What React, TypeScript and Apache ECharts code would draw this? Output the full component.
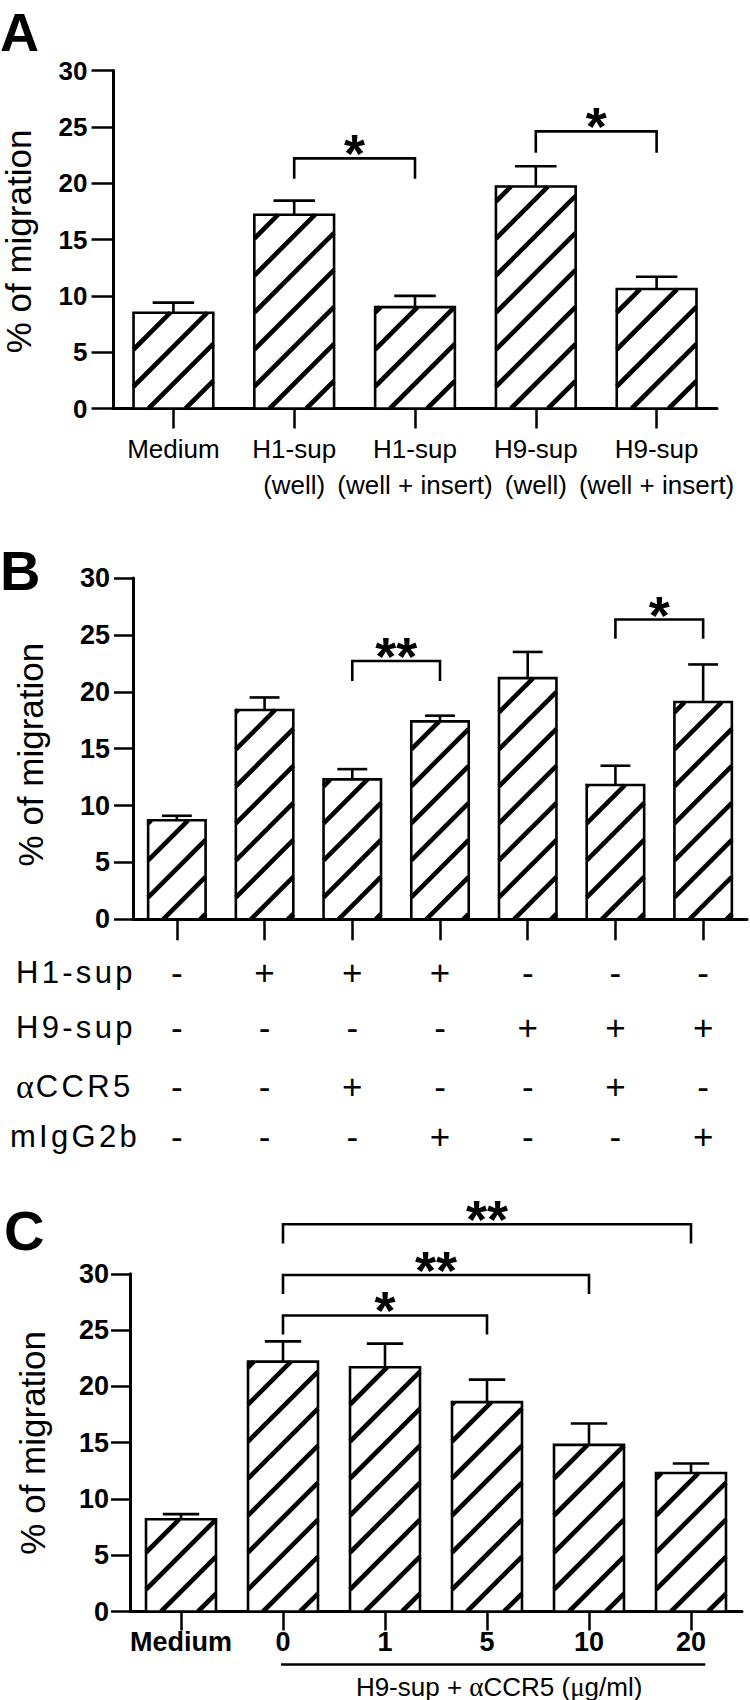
import React, { useEffect, useRef } from 'react';
import * as echarts from 'echarts';

const FONT = '"Liberation Sans", Arial, Helvetica, sans-serif';
const SERIF = '"Liberation Serif", "DejaVu Serif", serif';

// ---------- Panel A ----------
const aCategories = ['Medium', 'H1-sup\n(well)', 'H1-sup\n(well + insert)', 'H9-sup\n(well)', 'H9-sup\n(well + insert)'];
const aMeans = [8.5, 17.2, 9.0, 19.7, 10.6];
const aErrors = [0.9, 1.25, 1.0, 1.8, 1.1];
// [fromIndex, bracketY, toIndex, legDrop]
const aBrackets = [[1, 22.2, 2, 1.8], [3, 24.6, 4, 1.9]];
const aStars = ['*', '*'];

// ---------- Panel B ----------
const bCategories = ['1', '2', '3', '4', '5', '6', '7'];
const bMeans = [8.7, 18.4, 12.3, 17.4, 21.2, 11.8, 19.1];
const bErrors = [0.4, 1.1, 0.9, 0.5, 2.3, 1.7, 3.3];
const bBrackets = [[2, 22.7, 3, 1.75], [5, 26.35, 6, 1.7]];
const bStars = ['**', '*'];
const bRowNames = ['H1-sup', 'H9-sup', 'αCCR5', 'mIgG2b'];
const bRowH1 = ['-', '+', '+', '+', '-', '-', '-'];
const bRowH9 = ['-', '-', '-', '-', '+', '+', '+'];
const bRowCCR5 = ['-', '-', '+', '-', '-', '+', '-'];
const bRowIgG = ['-', '-', '-', '+', '-', '-', '+'];

// ---------- Panel C ----------
const cCategories = ['Medium', '0', '1', '5', '10', '20'];
const cMeans = [8.2, 22.2, 21.7, 18.6, 14.8, 12.3];
const cErrors = [0.45, 1.8, 2.1, 2.0, 1.9, 0.85];
const cBrackets = [[1, 26.3, 3, 1.7], [1, 29.9, 4, 1.7], [1, 34.4, 5, 1.7]];
const cStars = ['*', '**', '**'];
const cUnderline = [[1, 5]];
const cAxisTitle = '{t|H9-sup + }{g|α}{t|CCR5 (}{g|μ}{t|g/ml)}';

const HATCH_SPACING = 37;
const HATCH_OFFSET = 15;
const HATCH_WIDTH = 4.6;

function hatch(x0: number, y0: number, w: number, h: number) {
  const x1 = x0 + w;
  const y1 = y0 + h;
  const cMin = x0 + y0;
  const cMax = x1 + y1;
  let c = x0 + y1 + HATCH_OFFSET;
  while (c - HATCH_SPACING > cMin) c -= HATCH_SPACING;
  const out: number[][] = [];
  for (; c < cMax; c += HATCH_SPACING) {
    const xa = Math.max(x0, c - y1);
    const xb = Math.min(x1, c - y0);
    if (xb - xa > 0.8) out.push([xa, c - xa, xb, c - xb]);
  }
  return out;
}

function barRenderer(widthRatio: number) {
  return (params: any, api: any) => {
    const idx = api.value(0);
    const mean = api.value(1);
    const err = api.value(2);
    const base = api.coord([idx, 0]);
    const top = api.coord([idx, mean]);
    const errTop = api.coord([idx, mean + err]);
    const band = api.size([1, 0])[0];
    const w = band * widthRatio;
    const x0 = base[0] - w / 2;
    const y0 = top[1];
    const h = base[1] - top[1];
    const children: any[] = [
      { type: 'rect', shape: { x: x0, y: y0, width: w, height: h }, style: { fill: '#fff' } },
    ];
    hatch(x0, y0, w, h).forEach((l) => {
      children.push({
        type: 'line',
        shape: { x1: l[0], y1: l[1], x2: l[2], y2: l[3] },
        style: { stroke: '#000', lineWidth: HATCH_WIDTH },
      });
    });
    children.push({
      type: 'rect',
      shape: { x: x0, y: y0, width: w, height: h },
      style: { fill: 'none', stroke: '#000', lineWidth: 2.6 },
    });
    children.push({
      type: 'line',
      shape: { x1: base[0], y1: y0, x2: base[0], y2: errTop[1] },
      style: { stroke: '#000', lineWidth: 2.6 },
    });
    children.push({
      type: 'line',
      shape: { x1: base[0] - w * 0.26, y1: errTop[1], x2: base[0] + w * 0.26, y2: errTop[1] },
      style: { stroke: '#000', lineWidth: 2.6 },
    });
    return { type: 'group', children };
  };
}

function bracketRenderer(labels: string[]) {
  return (params: any, api: any) => {
    const from = api.value(0);
    const y = api.value(1);
    const to = api.value(2);
    const drop = api.value(3);
    const p1 = api.coord([from, y]);
    const p2 = api.coord([to, y]);
    const legY = api.coord([from, y - drop])[1];
    return {
      type: 'group',
      children: [
        {
          type: 'polyline',
          shape: { points: [[p1[0], legY], [p1[0], p1[1]], [p2[0], p2[1]], [p2[0], legY]] },
          style: { stroke: '#000', lineWidth: 2.6, fill: 'none' },
        },
        {
          type: 'text',
          style: {
            text: labels[params.dataIndex],
            x: (p1[0] + p2[0]) / 2,
            y: p1[1] - 5,
            textAlign: 'center',
            textVerticalAlign: 'middle',
            font: 'bold 54px ' + FONT,
            fill: '#000',
          },
        },
      ],
    };
  };
}

function underlineRenderer(params: any, api: any) {
  const p1 = api.coord([api.value(0), 0]);
  const p2 = api.coord([api.value(1), 0]);
  const band = api.size([1, 0])[0];
  const xa = p1[0] - 2;
  const xb = p2[0] + band * 0.14;
  const y = p1[1] + 53;
  return {
    type: 'group',
    children: [
      { type: 'line', shape: { x1: xa, y1: y, x2: xb, y2: y }, style: { stroke: '#000', lineWidth: 2.5 } },
      {
        type: 'text',
        style: {
          text: cAxisTitle,
          x: (xa + xb) / 2 + 6,
          y: y + 22,
          textAlign: 'center',
          textVerticalAlign: 'middle',
          fill: '#000',
          rich: {
            t: { fontFamily: FONT, fontSize: 26, fill: '#000' },
            g: { fontFamily: SERIF, fontSize: 27, fill: '#000' },
          },
        },
      },
    ],
  };
}

// letter-spaced rich text: every character becomes its own token with right padding
function spaced(text: string) {
  return Array.from(text)
    .map((ch) => (ch === 'α' ? '{g|α}' : '{s|' + ch + '}'))
    .join('');
}

function yAxis(gridIndex: number, margin: number, tickLen: number, fontSize: number) {
  return {
    type: 'value',
    gridIndex,
    min: 0,
    max: 30,
    interval: 5,
    axisLine: { show: true, lineStyle: { color: '#000', width: 3 } },
    axisTick: { show: true, length: tickLen, lineStyle: { color: '#000', width: 2.5 } },
    axisLabel: { margin, color: '#000', fontSize, fontWeight: 'bold', fontFamily: FONT },
    splitLine: { show: false },
  };
}

function tableAxis(data: string[], margin: number) {
  return {
    type: 'category',
    gridIndex: 1,
    data,
    position: 'bottom',
    offset: 0,
    axisLine: { show: false },
    axisTick: { show: false },
    splitLine: { show: false },
    axisLabel: {
      interval: 0,
      margin,
      verticalAlign: 'middle',
      fontSize: 35,
      color: '#000',
      fontFamily: FONT,
    },
  };
}

const tableRowCenters = [52.7, 107.7, 167.4, 216.7];
const tableRowPageY = [972, 1027, 1086.7, 1136];
const tableRowPageX = [16, 16, 16, 10];

export default function App() {
  const ref = useRef<HTMLDivElement>(null);
  useEffect(() => {
    if (!ref.current) return;
    const chart = echarts.init(ref.current, null, { renderer: 'svg' });
    const xAxisBase = {
      type: 'category',
      boundaryGap: true,
      axisLine: { show: true, lineStyle: { color: '#000', width: 3 } },
      splitLine: { show: false },
    };
    const option: any = {
      animation: false,
      backgroundColor: '#fff',
      grid: [
        { left: 113, top: 70.5, width: 604, height: 338 },
        { left: 133, top: 578, width: 614, height: 341.3 },
        { left: 130, top: 1273.8, width: 612, height: 337.7 },
      ],
      xAxis: [
        {
          ...xAxisBase,
          gridIndex: 0,
          data: aCategories,
          axisTick: { show: true, alignWithLabel: true, length: 20, lineStyle: { color: '#000', width: 2.5 } },
          axisLabel: { interval: 0, margin: 22.5, fontSize: 26, lineHeight: 36, color: '#000', fontFamily: FONT },
        },
        {
          ...xAxisBase,
          gridIndex: 1,
          data: bCategories,
          axisTick: { show: true, alignWithLabel: true, length: 21, lineStyle: { color: '#000', width: 2.5 } },
          axisLabel: { show: false },
        },
        tableAxis(bRowH1, tableRowCenters[0]),
        tableAxis(bRowH9, tableRowCenters[1]),
        tableAxis(bRowCCR5, tableRowCenters[2]),
        tableAxis(bRowIgG, tableRowCenters[3]),
        {
          ...xAxisBase,
          gridIndex: 2,
          data: cCategories,
          axisTick: { show: true, alignWithLabel: true, length: 19, lineStyle: { color: '#000', width: 2.5 } },
          axisLabel: { interval: 0, margin: 17, fontSize: 27, fontWeight: 'bold', color: '#000', fontFamily: FONT },
        },
      ],
      yAxis: [yAxis(0, 25.5, 21.5, 26), yAxis(1, 23, 19, 27), yAxis(2, 21, 19, 27)],
      series: [
        {
          type: 'custom',
          xAxisIndex: 0,
          yAxisIndex: 0,
          renderItem: barRenderer(0.66),
          encode: { x: 0, y: 1 },
          data: aMeans.map((m, i) => [i, m, aErrors[i]]),
        },
        {
          type: 'custom',
          xAxisIndex: 0,
          yAxisIndex: 0,
          clip: false,
          renderItem: bracketRenderer(aStars),
          encode: { x: 0, y: 1 },
          data: aBrackets,
        },
        {
          type: 'custom',
          xAxisIndex: 1,
          yAxisIndex: 1,
          renderItem: barRenderer(0.655),
          encode: { x: 0, y: 1 },
          data: bMeans.map((m, i) => [i, m, bErrors[i]]),
        },
        {
          type: 'custom',
          xAxisIndex: 1,
          yAxisIndex: 1,
          clip: false,
          renderItem: bracketRenderer(bStars),
          encode: { x: 0, y: 1 },
          data: bBrackets,
        },
        {
          type: 'custom',
          xAxisIndex: 6,
          yAxisIndex: 2,
          renderItem: barRenderer(0.686),
          encode: { x: 0, y: 1 },
          data: cMeans.map((m, i) => [i, m, cErrors[i]]),
        },
        {
          type: 'custom',
          xAxisIndex: 6,
          yAxisIndex: 2,
          clip: false,
          renderItem: bracketRenderer(cStars),
          encode: { x: 0, y: 1 },
          data: cBrackets,
        },
        {
          type: 'custom',
          xAxisIndex: 6,
          yAxisIndex: 2,
          clip: false,
          renderItem: underlineRenderer,
          encode: { x: 0 },
          data: cUnderline,
        },
      ],
      graphic: [
        { type: 'text', x: 0, y: 32, style: { text: 'A', font: 'bold 54px ' + FONT, textVerticalAlign: 'middle', fill: '#000' } },
        { type: 'text', x: 0, y: 570, style: { text: 'B', font: 'bold 56px ' + FONT, textVerticalAlign: 'middle', fill: '#000' } },
        { type: 'text', x: 4, y: 1230, style: { text: 'C', font: 'bold 56px ' + FONT, textVerticalAlign: 'middle', fill: '#000' } },
        {
          type: 'text', x: 18, y: 241.5, rotation: Math.PI / 2,
          style: { text: '% of migration', font: '35px ' + FONT, textAlign: 'center', textVerticalAlign: 'middle', fill: '#000' },
        },
        {
          type: 'text', x: 30, y: 754.6, rotation: Math.PI / 2,
          style: { text: '% of migration', font: '35px ' + FONT, textAlign: 'center', textVerticalAlign: 'middle', fill: '#000' },
        },
        {
          type: 'text', x: 32, y: 1442.8, rotation: Math.PI / 2,
          style: { text: '% of migration', font: '35px ' + FONT, textAlign: 'center', textVerticalAlign: 'middle', fill: '#000' },
        },
        ...bRowNames.map((name, i) => ({
          type: 'text',
          x: tableRowPageX[i],
          y: tableRowPageY[i],
          style: {
            text: spaced(name),
            textAlign: 'left',
            textVerticalAlign: 'middle',
            fill: '#000',
            rich: {
              s: { fontFamily: FONT, fontSize: 31, fill: '#000', padding: [0, 3.3, 0, 0] },
              g: { fontFamily: SERIF, fontSize: 34, fill: '#000', padding: [0, 2, 0, 0] },
            },
          },
        })),
      ],
    };
    chart.setOption(option);
    return () => chart.dispose();
  }, []);
  return (
    <div
      ref={ref}
      style={{ position: 'absolute', left: 0, top: 0, width: 750, height: 1700, background: '#fff' }}
    />
  );
}
